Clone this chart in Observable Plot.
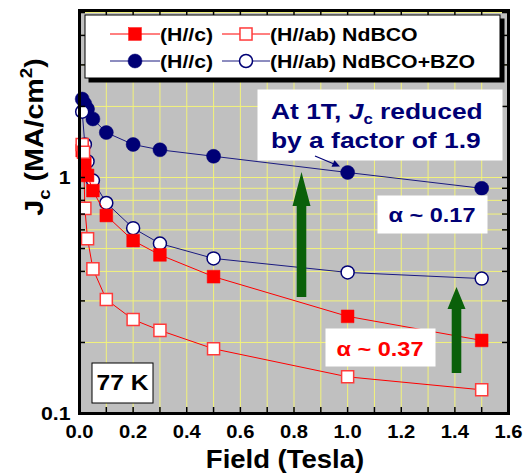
<!DOCTYPE html>
<html><head><meta charset="utf-8">
<script src="https://cdn.jsdelivr.net/npm/d3@7"></script>
<script src="https://cdn.jsdelivr.net/npm/@observablehq/plot@0.6"></script>
<style>html,body{margin:0;padding:0;overflow:hidden;background:#fff} svg{max-width:none !important}</style>
</head><body><div id="chart"></div>
<script>
// ---- data ----
const fieldNdC   = [0.01, 0.02, 0.03, 0.05, 0.1, 0.2, 0.3, 0.5, 1.0, 1.5];
const jcNdC      = [1.30, 1.15, 1.02, 0.88, 0.69, 0.54, 0.47, 0.38, 0.258, 0.204];
const fieldNdAb  = [0.01, 0.015, 0.02, 0.03, 0.05, 0.1, 0.2, 0.3, 0.5, 1.0, 1.5];
const jcNdAb     = [1.38, 1.28, 0.74, 0.55, 0.41, 0.304, 0.25, 0.225, 0.188, 0.143, 0.126];
const fieldBzoC  = [0.01, 0.02, 0.03, 0.05, 0.1, 0.2, 0.3, 0.5, 1.0, 1.5];
const jcBzoC     = [2.15, 2.05, 1.95, 1.77, 1.55, 1.38, 1.31, 1.23, 1.05, 0.90];
const fieldBzoAb = [0.01, 0.02, 0.03, 0.05, 0.1, 0.2, 0.3, 0.5, 1.0, 1.5];
const jcBzoAb    = [1.90, 1.38, 1.17, 0.97, 0.78, 0.61, 0.525, 0.454, 0.396, 0.373];

const legendLabels = ["(H//c)", "(H//ab) NdBCO", "(H//c)", "(H//ab) NdBCO+BZO"];
const xTickLabels = [0, 0.2, 0.4, 0.6, 0.8, 1.0, 1.2, 1.4, 1.6];
const xMinorTicks = [0.1, 0.2, 0.3, 0.4, 0.5, 0.6, 0.7, 0.8, 0.9, 1.0, 1.1, 1.2, 1.3, 1.4, 1.5];
const yTickLabels = [0.1, 1];
const yMinorTicks = [0.2, 0.3, 0.4, 0.5, 0.6, 0.7, 0.8, 0.9, 1, 2, 3, 4, 5];

// ---- styles ----
const RED = "#ff0000", NAVY = "#000075", NAVYLINE = "#1a1a80", GRID = "#f2f27a";
const FONT = "'Liberation Sans', Arial, sans-serif";

const toRows = (fs, js) => fs.map((f, i) => ({f, j: js[i]}));
const seriesList = [
  {rows: toRows(fieldBzoC, jcBzoC), line: NAVYLINE, symbol: "circle", fill: NAVY, stroke: NAVY, r: 7},
  {rows: toRows(fieldBzoAb, jcBzoAb), line: NAVYLINE, symbol: "circle", fill: "white", stroke: NAVY, r: 6.5},
  {rows: toRows(fieldNdC, jcNdC), line: RED, symbol: "square", fill: RED, stroke: RED, r: 7.2},
  {rows: toRows(fieldNdAb, jcNdAb), line: RED, symbol: "square", fill: "white", stroke: "#ff3a3a", r: 6.8},
];

const W = 525, H = 475, mL = 79, mR = 17, mT = 10, mB = 62;
const innerW = W - mL - mR, innerH = H - mT - mB;
const TICK = 6;

const marks = [
  Plot.frame({fill: "#c0c0c0", stroke: null}),
  Plot.ruleX(xMinorTicks, {stroke: GRID, strokeWidth: 1}),
  Plot.ruleY(yMinorTicks, {stroke: GRID, strokeWidth: 1}),
];
for (const s of seriesList) {
  marks.push(Plot.line(s.rows, {x: "f", y: "j", stroke: s.line, strokeWidth: 1}));
  marks.push(Plot.dot(s.rows, {x: "f", y: "j", symbol: s.symbol, r: s.r, fill: s.fill,
    stroke: s.stroke, strokeWidth: s.fill === "white" ? 1.5 : 0.5}));
}
marks.push(
  Plot.ruleX(xMinorTicks, {stroke: "black", strokeWidth: 1.5, insetTop: innerH - TICK}),
  Plot.ruleX(xMinorTicks, {stroke: "black", strokeWidth: 1.5, insetBottom: innerH - TICK}),
  Plot.ruleY(yMinorTicks, {stroke: "black", strokeWidth: 1.5, insetRight: innerW - TICK}),
  Plot.ruleY(yMinorTicks, {stroke: "black", strokeWidth: 1.5, insetLeft: innerW - TICK}),
  Plot.frame({stroke: "black", strokeWidth: 3}),
  Plot.axisX(xTickLabels, {tickSize: 0, tickPadding: 12, fontSize: 18, tickFormat: d3.format(".1f"), label: null}),
  Plot.axisY(yTickLabels, {tickSize: 0, tickPadding: 9, fontSize: 19, tickFormat: d => d >= 1 ? "1" : "0.1", label: null})
);

const plot = Plot.plot({
  width: W, height: H,
  marginLeft: mL, marginRight: mR, marginTop: mT, marginBottom: mB,
  x: {domain: [0, 1.6]},
  y: {type: "log", domain: [0.1, 5.1]},
  style: {fontFamily: FONT, fontWeight: "bold", background: "white", maxWidth: "none", width: W + "px", height: H + "px"},
  marks
});
document.getElementById("chart").append(plot);

const svg = d3.select(plot);
svg.selectAll("text").each(function() {
  const el = d3.select(this);
  el.attr("font-family", FONT).attr("font-weight", "bold").attr("fill", "black");
  el.attr("transform", `${el.attr("transform") || ""} scale(1.12,1)`);
});

const g = svg.append("g").attr("font-family", FONT).attr("font-weight", "bold").attr("text-anchor", "start");
function box(x, y, w, h, {fill = "#ffffff", stroke = "#ffffff"} = {}) {
  return g.append("rect").attr("x", x).attr("y", y).attr("width", w).attr("height", h)
    .attr("fill", fill).attr("stroke", stroke).attr("stroke-width", 1);
}
function text(x, y, str, {size = 19, fill = "black", anchor = "start", s = 1.12} = {}) {
  return g.append("text").attr("transform", `translate(${x},${y}) scale(${s},1)`)
    .attr("font-size", size).attr("fill", fill).attr("text-anchor", anchor).text(str);
}

// legend
box(89, 19, 415, 63, {fill: "black", stroke: "black"});
box(85, 15, 415, 63, {fill: "white", stroke: "black"});
const legendItems = [
  {x0: 110, x1: 160, y: 34, si: 2},
  {x0: 222, x1: 270, y: 34, si: 3},
  {x0: 110, x1: 160, y: 61, si: 0},
  {x0: 222, x1: 270, y: 61, si: 1},
];
legendItems.forEach((it, k) => {
  const s = seriesList[it.si];
  g.append("line").attr("x1", it.x0).attr("x2", it.x1).attr("y1", it.y).attr("y2", it.y).attr("stroke", s.line).attr("stroke-width", 1);
  const cx = (it.x0 + it.x1) / 2;
  if (s.symbol === "circle") {
    g.append("circle").attr("cx", cx).attr("cy", it.y).attr("r", s.r).attr("fill", s.fill).attr("stroke", s.stroke).attr("stroke-width", s.fill === "white" ? 1.5 : 0.5);
  } else {
    const a = s.r * Math.sqrt(Math.PI);
    g.append("rect").attr("x", cx - a / 2).attr("y", it.y - a / 2).attr("width", a).attr("height", a).attr("fill", s.fill).attr("stroke", s.stroke).attr("stroke-width", s.fill === "white" ? 1.5 : 0.5);
  }
  text(it.x1, it.y + 7, legendLabels[k], {size: 19, s: 1.12});
});

// annotation box "At 1T ..."
box(258, 90, 244, 70);
const t1 = g.append("text").attr("transform", "translate(271,119) scale(1.2,1)")
  .attr("font-size", 22).attr("fill", NAVY).attr("text-anchor", "start");
t1.append("tspan").text("At 1T, ");
t1.append("tspan").attr("font-style", "italic").text("J");
t1.append("tspan").attr("font-size", 14).attr("dy", 5).text("c");
t1.append("tspan").attr("dy", -5).text(" reduced");
text(271, 148, "by a factor of 1.9", {size: 22, fill: NAVY, s: 1.2});
g.append("line").attr("x1", 315).attr("y1", 156).attr("x2", 334).attr("y2", 164).attr("stroke", NAVY).attr("stroke-width", 1.2);
g.append("path").attr("d", "M340,166.5 L331.5,166.8 L334.5,160.2 Z").attr("fill", NAVY);

// alpha boxes
box(378, 196, 109, 37);
text(432, 222, "α ~ 0.17", {size: 21, fill: NAVY, anchor: "middle", s: 1.12});
box(326, 329, 109, 37);
text(380, 356, "α ~ 0.37", {size: 21, fill: RED, anchor: "middle", s: 1.12});

// 77 K box
box(92, 363, 61, 40, {fill: "white", stroke: "black"});
text(122.5, 390, "77 K", {size: 22, anchor: "middle", s: 1.12});

// green arrows
function bigArrow(cx, yBottom, yHeadBase, yTip) {
  const sw = 4.8, hw = 9;
  g.append("path").attr("d",
    `M${cx - sw},${yBottom} L${cx - sw},${yHeadBase} L${cx - hw},${yHeadBase} L${cx},${yTip} L${cx + hw},${yHeadBase} L${cx + sw},${yHeadBase} L${cx + sw},${yBottom} Z`)
    .attr("fill", "#0a600a");
}
bigArrow(301.5, 297, 206, 172);
bigArrow(456.5, 373, 309, 287);

// axis titles
text(285, 468, "Field (Tesla)", {size: 25, anchor: "middle", s: 1.1});
const yt = g.append("text").attr("transform", "translate(43,137) rotate(-90) scale(1.1,1)")
  .attr("font-size", 26).attr("text-anchor", "middle").attr("fill", "black");
yt.append("tspan").text("J");
yt.append("tspan").attr("font-size", 17).attr("dy", 7).text("c");
yt.append("tspan").attr("dy", -7).text(" (MA/cm");
yt.append("tspan").attr("font-size", 17).attr("dy", -11).text("2");
yt.append("tspan").attr("dy", 11).text(")");
</script>
</body></html>
